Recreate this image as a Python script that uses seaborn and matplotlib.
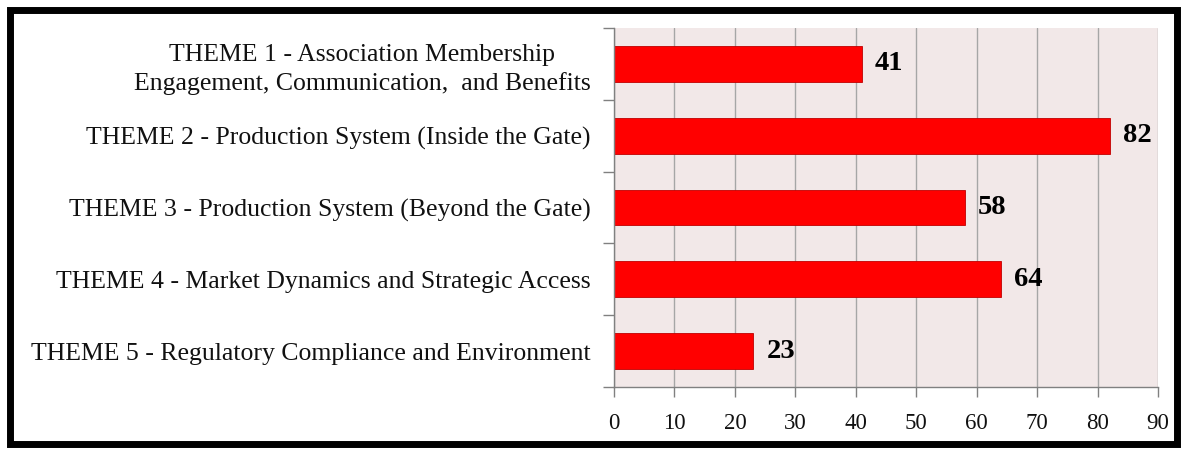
import matplotlib
matplotlib.use("Agg")
import matplotlib.pyplot as plt
import seaborn as sns
import pandas as pd
from matplotlib.patches import Rectangle

categories = [
    "THEME 1 - Association Membership\nEngagement, Communication,  and Benefits",
    "THEME 2 - Production System (Inside the Gate)",
    "THEME 3 - Production System (Beyond the Gate)",
    "THEME 4 - Market Dynamics and Strategic Access",
    "THEME 5 - Regulatory Compliance and Environment",
]
values = [41, 82, 58, 64, 23]
x_ticks = [0, 10, 20, 30, 40, 50, 60, 70, 80, 90]

sns.set_theme(style="white")
plt.rcParams['font.family'] = ['Liberation Serif', 'DejaVu Serif']

df = pd.DataFrame({"theme": categories, "count": values})

fig = plt.figure(figsize=(11.88, 4.5), dpi=100)
ax = fig.add_axes([614/1188, 1 - 387/450, (1158-614)/1188, (387-28)/450])
ax.set_facecolor("#F2E8E8")

sns.barplot(data=df, y="theme", x="count", orient="h", color="#FF0000",
            saturation=1, width=0.5, edgecolor="#C00000", linewidth=0.6, ax=ax)

ax.set_xlim(0, 90)
ax.set_ylim(4.5, -0.5)
ax.set_xticks(x_ticks)
ax.set_xticklabels([str(t) for t in x_ticks], fontsize=16.5, color="#111111")
ax.xaxis.grid(True, color="#A6A6A6", linewidth=1.0)
ax.set_axisbelow(True)
ax.set_xlabel("")
ax.set_ylabel("")

ax.set_yticks(range(len(categories)))
ax.set_yticklabels(categories, fontsize=18.5, color="#111111", multialignment="center",
                   linespacing=1.35)
ax.tick_params(axis="y", which="major", left=False, length=0, pad=17)
ax.set_yticks([i - 0.5 for i in range(len(categories) + 1)], minor=True)
ax.tick_params(axis="y", which="minor", left=True, length=8, color="#808080",
               width=1, direction="out")
ax.tick_params(axis="x", which="major", bottom=True, length=7, color="#808080",
               width=1, direction="out", pad=12)

for s in ["top", "right"]:
    ax.spines[s].set_visible(False)
for s in ["left", "bottom"]:
    ax.spines[s].set_color("#808080")
    ax.spines[s].set_linewidth(1)

for i, v in enumerate(values):
    ax.text(v + 2.2, i, str(v), va="center", ha="left", fontsize=20.5,
            fontweight="bold", color="#000000")

fig.patches.append(Rectangle((10/1188, 1 - 444/450), (1177-10)/1188, (444-10)/450,
                             transform=fig.transFigure, fill=False,
                             edgecolor="black", linewidth=5, zorder=10))

fig.savefig("out.png", dpi=100, facecolor="white")
